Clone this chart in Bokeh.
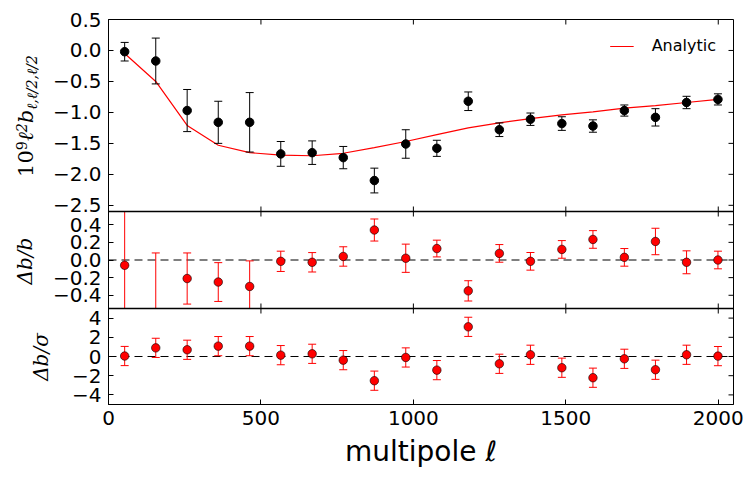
from bokeh.plotting import figure
from bokeh.layouts import row
from bokeh.models import Range1d, FixedTicker, Span, Div
from bokeh.embed import file_html
from bokeh.resources import INLINE

# ---------------- data ----------------
ell = [53, 155, 258, 360, 463, 565, 668, 770, 872, 975,
       1077, 1180, 1282, 1384, 1487, 1589, 1692, 1794, 1896, 1999]
b_meas = [-0.02, -0.17, -0.97, -1.16, -1.16, -1.67, -1.65, -1.73, -2.10, -1.51,
          -1.58, -0.82, -1.28, -1.11, -1.18, -1.22, -0.97, -1.08, -0.84, -0.79]
b_err = [0.15, 0.37, 0.34, 0.34, 0.48, 0.20, 0.19, 0.18, 0.20, 0.23,
         0.13, 0.15, 0.11, 0.10, 0.11, 0.10, 0.09, 0.14, 0.10, 0.09]
b_analytic = [-0.05, -0.50, -1.21, -1.53, -1.65, -1.69, -1.70, -1.66, -1.57, -1.47,
              -1.36, -1.25, -1.17, -1.10, -1.04, -0.99, -0.93, -0.89, -0.84, -0.79]
rel_diff = [-0.06, -0.66, -0.21, -0.25, -0.30, -0.015, -0.026, 0.04, 0.34, 0.02,
            0.13, -0.35, 0.075, -0.015, 0.12, 0.233, 0.03, 0.21, -0.026, 0.0]
rel_err = [3.0, 0.74, 0.29, 0.22, 0.29, 0.115, 0.11, 0.11, 0.125, 0.16,
           0.095, 0.115, 0.10, 0.10, 0.10, 0.10, 0.10, 0.15, 0.13, 0.10]
sig_diff = [0.05, 0.9, 0.7, 1.08, 1.08, 0.14, 0.28, -0.38, -2.52, -0.1,
            -1.42, 3.09, -0.76, 0.18, -1.17, -2.21, -0.24, -1.38, 0.18, 0.04]
sig_err = [1.0, 1.0, 1.0, 1.0, 1.0, 1.0, 1.0, 1.0, 1.0, 1.0,
           1.0, 1.0, 1.0, 1.0, 1.0, 1.0, 1.0, 1.0, 1.0, 1.0]

x_ticks = [0, 500, 1000, 1500, 2000]
x_labels = ["0", "500", "1000", "1500", "2000"]
top_ticks = [0.5, 0.0, -0.5, -1.0, -1.5, -2.0, -2.5]
top_labels = ["0.5", "0.0", "−0.5", "−1.0", "−1.5", "−2.0", "−2.5"]
mid_ticks = [0.4, 0.2, 0.0, -0.2, -0.4]
mid_labels = ["0.4", "0.2", "0.0", "−0.2", "−0.4"]
bot_ticks = [4, 2, 0, -2, -4]
bot_labels = ["4", "2", "0", "−2", "−4"]

X_RANGE = (0, 2050)
TOP_RANGE = (-2.6, 0.5)
MID_RANGE = (-0.55, 0.55)
BOT_RANGE = (-5, 5)

# ---------------- layout (pixels) ----------------
FW, FH = 625, 385
BOT_BAND = (0, 96)
MID_BAND = (96, 193)
TOP_BAND = (193, 385)
TOP_BORDER = 19
LABEL_W = 49
TICK_LEN = 5
TICK_FONT = "DejaVu Sans"
MATH_FONT = "DejaVu Serif"


def band_range(r, band):
    u = (r[1] - r[0]) / (band[1] - band[0])
    return Range1d(start=r[0] - band[0] * u, end=r[1] + (FH - band[1]) * u)


def to_px(v, r, band):
    return band[0] + (v - r[0]) / (r[1] - r[0]) * (band[1] - band[0])


main = figure(title=None, frame_width=FW, frame_height=FH, x_range=Range1d(*X_RANGE),
              y_range=Range1d(0, FH), output_backend="svg", toolbar_location=None,
              min_border_left=59, min_border_right=20, min_border_top=TOP_BORDER,
              min_border_bottom=5, background_fill_color="white",
              border_fill_color="white", border_fill_alpha=0)
main.extra_y_ranges = {"top": band_range(TOP_RANGE, TOP_BAND),
                       "mid": band_range(MID_RANGE, MID_BAND),
                       "bot": band_range(BOT_RANGE, BOT_BAND)}
main.grid.visible = False
main.outline_line_color = "black"
main.outline_line_width = 1

# ---- y axis: one axis carrying the tick labels of all three panels ----
tick_pos, tick_lab = [], []
for ticks, labels, r, band in ((top_ticks, top_labels, TOP_RANGE, TOP_BAND),
                               (mid_ticks, mid_labels, MID_RANGE, MID_BAND),
                               (bot_ticks, bot_labels, BOT_RANGE, BOT_BAND)):
    for t, l in zip(ticks, labels):
        tick_pos.append(float(to_px(t, r, band)))
        tick_lab.append(l)
ya = main.yaxis[0]
ya.ticker = FixedTicker(ticks=tick_pos)
ya.major_label_overrides = {t: l for t, l in zip(tick_pos, tick_lab)}
ya.major_tick_in = TICK_LEN
ya.major_tick_out = 0
ya.minor_tick_line_color = None
ya.major_label_standoff = 7
ya.major_label_text_font = TICK_FONT
ya.major_label_text_font_size = "20px"
ya.major_label_text_color = "black"
ya.axis_line_color = "black"

xa = main.xaxis[0]
xa.ticker = FixedTicker(ticks=x_ticks)
xa.major_label_overrides = {t: l for t, l in zip(x_ticks, x_labels)}
xa.major_tick_in = TICK_LEN
xa.major_tick_out = 0
xa.minor_tick_line_color = None
xa.major_label_standoff = 6
xa.major_label_text_font = TICK_FONT
xa.major_label_text_font_size = "20px"
xa.major_label_text_color = "black"
xa.axis_line_color = "black"
xa.axis_label = "multipole ℓ"
xa.axis_label_text_font = TICK_FONT
xa.axis_label_text_font_style = "normal"
xa.axis_label_text_font_size = "28px"
xa.axis_label_standoff = 7
xa.axis_label_text_color = "black"

# ---- panel separators and inward ticks on the other frame sides ----
for loc in (MID_BAND[0], TOP_BAND[0]):
    main.add_layout(Span(location=loc, dimension="width", line_color="black",
                         line_width=1.3))
xt = [t for t in x_ticks if t > X_RANGE[0]]
for y0, y1 in ((FH - TICK_LEN, FH),
               (TOP_BAND[0] - TICK_LEN, TOP_BAND[0] + TICK_LEN),
               (MID_BAND[0] - TICK_LEN, MID_BAND[0] + TICK_LEN)):
    main.segment(x0=xt, x1=xt, y0=[y0] * len(xt), y1=[y1] * len(xt),
                 line_color="black", line_width=1)
dx = TICK_LEN * (X_RANGE[1] - X_RANGE[0]) / FW
main.segment(x0=[X_RANGE[1] - dx] * len(tick_pos), x1=[X_RANGE[1]] * len(tick_pos),
             y0=tick_pos, y1=tick_pos, line_color="black", line_width=1)

# ---- zero lines ----
for name in ("mid", "bot"):
    main.add_layout(Span(location=0, dimension="width", y_range_name=name,
                         line_color="black", line_dash="8 5", line_width=1.2,
                         level="underlay"))


def panel_points(x, y, e, r, name, color, fill, edge_w):
    """error bars + markers, kept inside the panel's own limits"""
    lo = [max(v - d, r[0]) for v, d in zip(y, e)]
    hi = [min(v + d, r[1]) for v, d in zip(y, e)]
    main.segment(x0=x, x1=x, y0=lo, y1=hi, line_color=color, line_width=1,
                 y_range_name=name)
    cx = [xi for xi, v, d in zip(x, y, e) if v - d >= r[0]] + \
         [xi for xi, v, d in zip(x, y, e) if v + d <= r[1]]
    cy = [v - d for v, d in zip(y, e) if v - d >= r[0]] + \
         [v + d for v, d in zip(y, e) if v + d <= r[1]]
    main.scatter(x=cx, y=cy, marker="dash", size=8, line_color=color,
                 line_width=1, y_range_name=name)
    mx = [xi for xi, v in zip(x, y) if r[0] <= v <= r[1]]
    my = [v for v in y if r[0] <= v <= r[1]]
    main.scatter(x=mx, y=my, marker="circle", size=8.5, fill_color=fill,
                 line_color="black", line_width=edge_w, y_range_name=name)


# ---- top panel ----
main.line(ell, b_analytic, line_color="red", line_width=1.2, y_range_name="top",
          legend_label="Analytic")
panel_points(ell, b_meas, b_err, TOP_RANGE, "top", "black", "black", 1)
# ---- middle panel ----
panel_points(ell, rel_diff, rel_err, MID_RANGE, "mid", "red", "red", 0.6)
# ---- bottom panel ----
panel_points(ell, sig_diff, sig_err, BOT_RANGE, "bot", "red", "red", 0.6)

lg = main.legend[0]
lg.location = "top_right"
lg.background_fill_alpha = 0
lg.border_line_alpha = 0
lg.margin = 10
lg.padding = 7
lg.label_height = 14
lg.glyph_height = 14
lg.glyph_width = 24
lg.label_standoff = 18
lg.label_text_font = TICK_FONT
lg.label_text_font_size = "16px"
lg.label_text_color = "black"

# ---------------- y-axis titles (rotated HTML text in a strip on the left) ----
def page_y(v):
    return TOP_BORDER + FH - v


def vlabel(xc, v, html, size):
    return ('<div style="position:absolute; left:%.1fpx; top:%.1fpx; '
            'transform:translate(-50%%,-50%%) rotate(-90deg); white-space:nowrap; '
            "font-family:'%s'; font-style:italic; font-size:%spx; line-height:1; "
            'color:black;">%s</div>' % (xc, page_y(v), MATH_FONT, size, html))


SUP = '<span style="font-size:0.68em; position:relative; top:-0.45em;">%s</span>'
SUB = '<span style="font-size:0.68em; position:relative; top:0.3em;">%s</span>'
top_html = ('<span style="font-style:normal">10' + SUP % "9" + '</span>ℓ' +
            SUP % "2" + 'b' + SUB % "ℓ,ℓ/2,ℓ/2")

top_c = (TOP_BAND[0] + TOP_BAND[1]) / 2
mid_c = (MID_BAND[0] + MID_BAND[1]) / 2
bot_c = (BOT_BAND[0] + BOT_BAND[1]) / 2
html = ('<div style="position:relative; width:%dpx; height:%dpx; overflow:visible;">'
        % (LABEL_W, TOP_BORDER + FH + 70) +
        vlabel(26, top_c - 1, top_html, 21) +
        vlabel(25, mid_c - 1, "Δb/b", 20) +
        vlabel(41, bot_c - 1, "Δb/σ", 20) +
        '</div>')
titles = Div(text=html, width=LABEL_W, height=TOP_BORDER + FH + 70, margin=(0, 0, 0, 0))

layout = row(titles, main)
open("out.html", "w").write(file_html(layout, INLINE))
